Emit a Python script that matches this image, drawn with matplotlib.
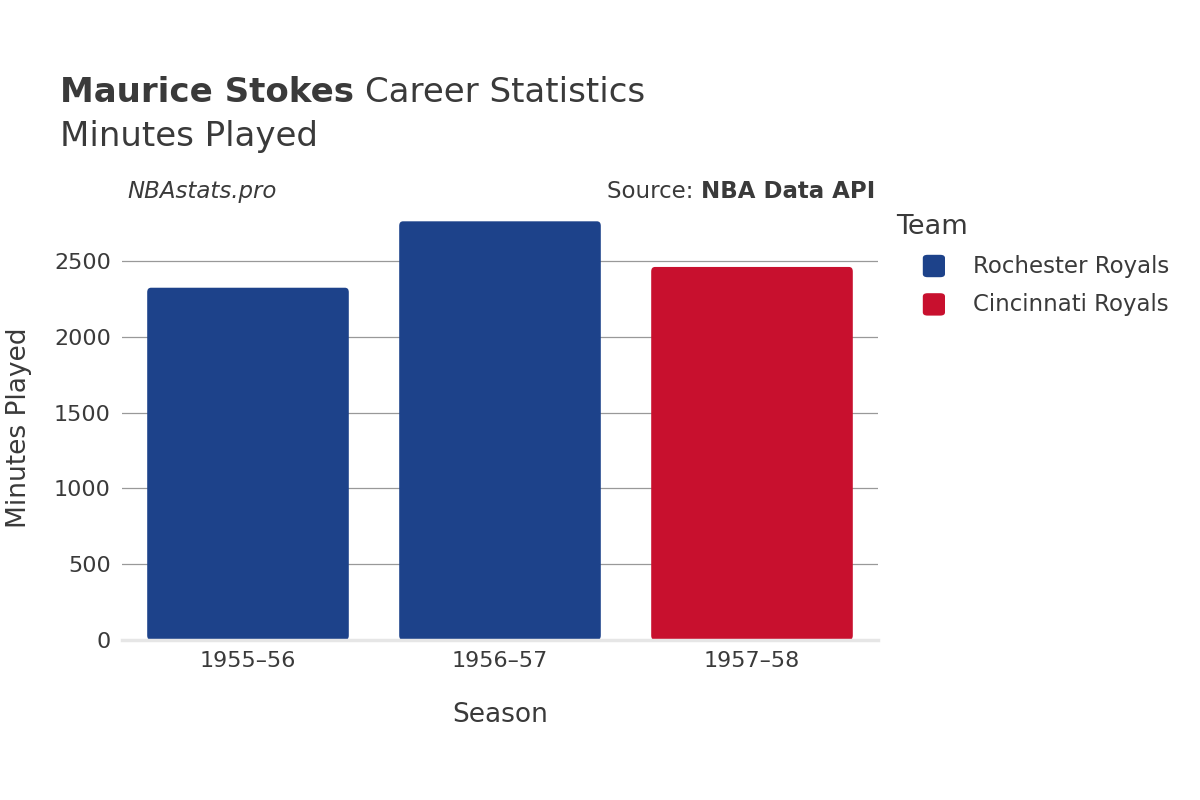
import matplotlib
matplotlib.use("Agg")
import matplotlib.pyplot as plt
from matplotlib.patches import FancyBboxPatch

seasons = ["1955–56", "1956–57", "1957–58"]
minutes = [2323, 2761, 2460]
teams = ["Rochester Royals", "Rochester Royals", "Cincinnati Royals"]
team_colors = {"Rochester Royals": "#1d428a", "Cincinnati Royals": "#c8102e"}
yticks = [0, 500, 1000, 1500, 2000, 2500]

fig = plt.figure(figsize=(12, 8), dpi=100)
ax = fig.add_axes([122 / 1200, 160 / 800, 756 / 1200, 0.53])
tc = "#3a3a3a"
for i, (s, v, t) in enumerate(zip(seasons, minutes, teams)):
    ax.add_patch(FancyBboxPatch((i - 0.4, 0), 0.8, v, boxstyle="round,pad=0,rounding_size=0.015",
                                mutation_aspect=2000, fc=team_colors[t], ec="none", zorder=2))
ax.set_xlim(-0.5, 2.5)
ax.set_ylim(0, 2796)
ax.set_xticks(range(3))
ax.set_xticklabels(seasons, fontsize=16, color=tc)
ax.set_yticks(yticks)
ax.set_yticklabels([str(y) for y in yticks], fontsize=16, color=tc)
ax.grid(axis="y", color="#999999", lw=0.9, zorder=0)
for sp in ["top", "right", "left"]:
    ax.spines[sp].set_visible(False)
ax.spines["bottom"].set_color("#e6e6e6")
ax.spines["bottom"].set_linewidth(2.5)
ax.tick_params(length=0, pad=8)
ax.set_xlabel("Season", fontsize=19, color=tc, labelpad=22)
ax.set_ylabel("Minutes Played", fontsize=19, color=tc, labelpad=16)

t1 = fig.text(0.05, 0.873, "Maurice Stokes", fontsize=24.5, fontweight="bold", color=tc)
fig.canvas.draw()
bb = t1.get_window_extent()
fig.text((bb.x1 + 11) / 1200, 0.873, "Career Statistics", fontsize=24.5, color=tc)
fig.text(0.05, 0.818, "Minutes Played", fontsize=24.5, color=tc)
fig.text(0.106, 0.752, "NBAstats.pro", fontsize=16.5, style="italic", color=tc)
s = fig.text(0.729, 0.752, "NBA Data API", fontsize=16.5, fontweight="bold", color=tc, ha="right")
fig.canvas.draw()
bb = s.get_window_extent()
fig.text(bb.x0 / 1200, 0.752, "Source: ", fontsize=16.5, color=tc, ha="right")

fig.text(0.747, 0.707, "Team", fontsize=19.5, color=tc)
for j, (name, c) in enumerate(team_colors.items()):
    y = 0.667 - j * 0.048
    fig.add_artist(FancyBboxPatch((0.769, y - 0.0135), 0.0185, 0.028, boxstyle="round,pad=0,rounding_size=0.004",
                                  transform=fig.transFigure, fc=c, ec="none"))
    fig.text(0.811, y, name, fontsize=16.5, color=tc, va="center")

fig.savefig("out.png")
